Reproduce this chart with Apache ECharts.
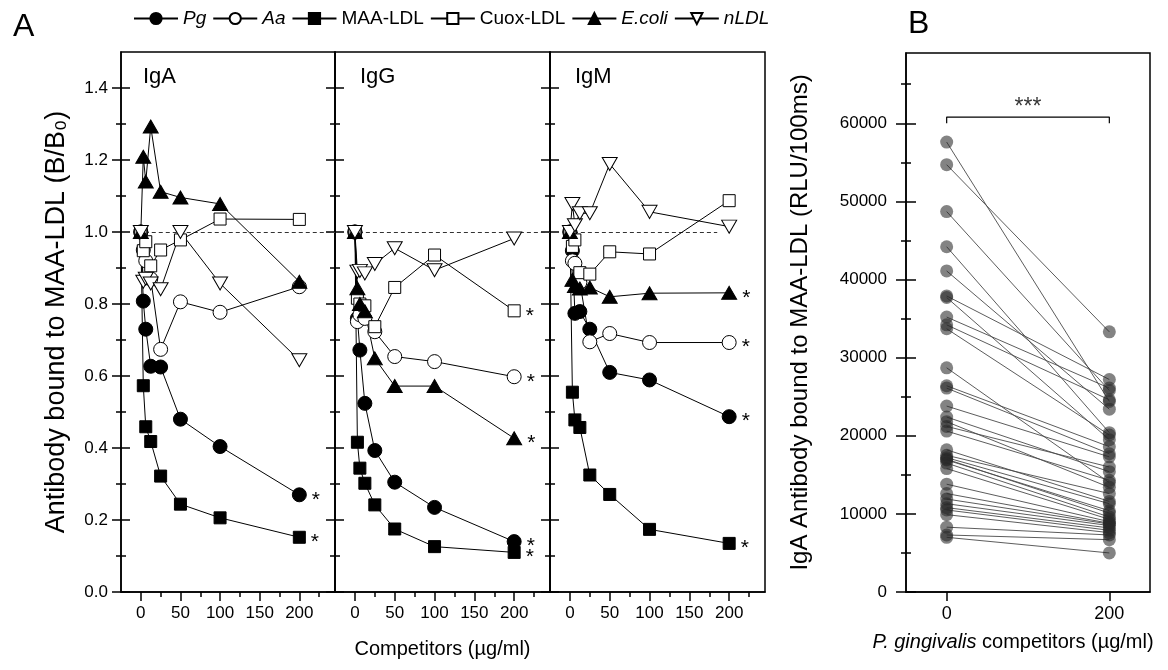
<!DOCTYPE html>
<html>
<head>
<meta charset="utf-8">
<script src="https://cdn.jsdelivr.net/npm/echarts@6/dist/echarts.min.js"></script>
<style>html,body{margin:0;padding:0;background:#fff}#c{width:1168px;height:670px}</style>
</head>
<body>
<div id="c"></div>
<script>
// ---------- DATA ----------
const conc = [0, 3.125, 6.25, 12.5, 25, 50, 100, 200];
const competitorNames = ['Pg', 'Aa', 'MAA-LDL', 'Cuox-LDL', 'E.coli', 'nLDL'];
const italicNames = ['Pg', 'Aa', 'E.coli', 'nLDL'];
const panelLabels = ['IgA', 'IgG', 'IgM'];

const igA_Pg    = [1.0, 0.808, 0.730, 0.627, 0.625, 0.480, 0.404, 0.270];
const igA_Aa    = [1.0, 0.950, 0.920, 0.870, 0.674, 0.806, 0.777, 0.848];
const igA_MAA   = [1.0, 0.573, 0.459, 0.418, 0.322, 0.244, 0.206, 0.152];
const igA_Cuox  = [1.0, 0.948, 0.973, 0.906, 0.950, 0.978, 1.036, 1.035];
const igA_Ecoli = [1.0, 1.209, 1.140, 1.293, 1.112, 1.096, 1.078, 0.862];
const igA_nLDL  = [1.0, 0.862, 0.870, 0.857, 0.841, 1.000, 0.857, 0.644];

const igG_Pg    = [1.0, 0.760, 0.672, 0.524, 0.393, 0.305, 0.235, 0.140];
const igG_Aa    = [1.0, 0.751, 0.770, 0.760, 0.723, 0.654, 0.640, 0.598];
const igG_MAA   = [1.0, 0.416, 0.344, 0.302, 0.242, 0.175, 0.126, 0.110];
const igG_Cuox  = [1.0, 0.816, 0.800, 0.795, 0.737, 0.846, 0.936, 0.781];
const igG_Ecoli = [1.0, 0.844, 0.800, 0.780, 0.649, 0.572, 0.572, 0.427];
const igG_nLDL  = [1.0, 0.890, 0.892, 0.885, 0.911, 0.955, 0.894, 0.982];

const igM_Pg    = [1.0, 0.948, 0.774, 0.779, 0.730, 0.610, 0.589, 0.487];
const igM_Aa    = [1.0, 0.920, 0.913, 0.860, 0.695, 0.718, 0.693, 0.693];
const igM_MAA   = [1.0, 0.555, 0.478, 0.457, 0.325, 0.271, 0.174, 0.135];
const igM_Cuox  = [1.0, 0.960, 0.978, 0.887, 0.883, 0.945, 0.939, 1.087];
const igM_Ecoli = [1.0, 0.867, 0.850, 0.843, 0.846, 0.820, 0.830, 0.831];
const igM_nLDL  = [1.0, 1.078, 1.019, 1.052, 1.052, 1.189, 1.056, 1.015];

const starsIgA = ['Pg', 'MAA-LDL'];
const starsIgG = ['Cuox-LDL', 'Aa', 'E.coli', 'Pg', 'MAA-LDL'];
const starsIgM = ['E.coli', 'Aa', 'Pg', 'MAA-LDL'];

const yTicksA = [0, 0.2, 0.4, 0.6, 0.8, 1.0, 1.2, 1.4];
const yMinorA = [0.1, 0.3, 0.5, 0.7, 0.9, 1.1, 1.3];
const xTicksA = [0, 50, 100, 150, 200];
const xMinorA = [25, 75, 125, 175, 225];
const refLineValue = 1.0;

// Panel B: paired IgA values (RLU/100ms) before (0) and after (200 ug/ml) competition
const pgPre  = [57600, 54700, 48700, 44200, 41100, 37900, 37700, 35200, 34200, 33700,
                28700, 26400, 26100, 23800, 22400, 21800, 21200, 20600, 18200, 17500,
                17200, 17000, 16900, 16500, 15800, 13800, 12600, 11900, 11300, 10800,
                10500, 9900, 8300, 7300, 7000];
const pgPost = [24400, 33300, 25800, 20400, 23400, 27200, 19500, 26100, 24600, 20100,
                14000, 18600, 17700, 17300, 15400, 13400, 16000, 14300, 11600, 12600,
                11300, 10100, 10400, 9600, 9300, 9000, 8800, 8700, 8500, 8200,
                7900, 7600, 7300, 6700, 5000];
const xCatsB = [0, 200];
const yTicksB = [0, 10000, 20000, 30000, 40000, 50000, 60000];
const yMinorB = [5000, 15000, 25000, 35000, 45000, 55000, 65000];
const sigText = '***';
const sigBase = 60000, sigTop = 60800;

// ---------- STYLE ----------
const FONT = "'Liberation Sans', Arial, Helvetica, sans-serif";
const BLACK = '#000';
const styleMap = {
  'Pg':       {symbol: 'circle', size: 14, fill: '#000'},
  'Aa':       {symbol: 'circle', size: 14, fill: '#fff'},
  'MAA-LDL':  {symbol: 'rect', size: 12, fill: '#000'},
  'Cuox-LDL': {symbol: 'rect', size: 12, fill: '#fff'},
  'E.coli':   {symbol: 'triangle', size: [15, 13], fill: '#000'},
  'nLDL':     {symbol: 'path://M0,0L10,0L5,8.66Z', size: [15, 13], fill: '#fff'}
};

const panels = [
  {data: {'Pg': igA_Pg, 'Aa': igA_Aa, 'MAA-LDL': igA_MAA, 'Cuox-LDL': igA_Cuox, 'E.coli': igA_Ecoli, 'nLDL': igA_nLDL}, stars: starsIgA, refEnd: 245},
  {data: {'Pg': igG_Pg, 'Aa': igG_Aa, 'MAA-LDL': igG_MAA, 'Cuox-LDL': igG_Cuox, 'E.coli': igG_Ecoli, 'nLDL': igG_nLDL}, stars: starsIgG, refEnd: 245},
  {data: {'Pg': igM_Pg, 'Aa': igM_Aa, 'MAA-LDL': igM_MAA, 'Cuox-LDL': igM_Cuox, 'E.coli': igM_Ecoli, 'nLDL': igM_nLDL}, stars: starsIgM, refEnd: 185}
];
const gridPos = [{left: 121, width: 214}, {left: 335, width: 215}, {left: 550, width: 215}];
const labelLeft = [138, 355, 570];

const grids = [], xAxes = [], yAxes = [], series = [];
const lineSt = {color: BLACK, width: 1.5};

function helperY(gi, min, max, vals, off, len) {
  return {gridIndex: gi, type: 'value', min, max, position: 'left', offset: off,
    axisLine: {show: false, onZero: false}, axisTick: {show: true, inside: true, length: len, customValues: vals, lineStyle: lineSt},
    axisLabel: {show: false}, splitLine: {show: false}};
}

panels.forEach((p, pi) => {
  grids.push({left: gridPos[pi].left, top: 52, width: gridPos[pi].width, height: 540,
    show: true, borderColor: BLACK, borderWidth: 1.5, backgroundColor: 'transparent'});
  const xi = xAxes.length;
  xAxes.push({gridIndex: pi, type: 'value', min: -25, max: 245, position: 'bottom',
    axisLine: {show: true, onZero: false, lineStyle: lineSt},
    axisTick: {show: true, length: 9, customValues: xTicksA, lineStyle: lineSt},
    axisLabel: {show: true, customValues: xTicksA, margin: 13, fontSize: 17, color: BLACK},
    splitLine: {show: false},
    name: pi === 1 ? 'Competitors (µg/ml)' : '', nameLocation: 'middle', nameGap: 47,
    nameTextStyle: {fontSize: 20, color: BLACK}});
  xAxes.push({gridIndex: pi, type: 'value', min: -25, max: 245, position: 'bottom',
    axisLine: {show: false, onZero: false},
    axisTick: {show: true, length: 5, customValues: xMinorA, lineStyle: lineSt},
    axisLabel: {show: false}, splitLine: {show: false}});
  const yi = yAxes.length;
  yAxes.push({gridIndex: pi, type: 'value', min: 0, max: 1.5, position: 'left',
    axisLine: {show: true, onZero: false, lineStyle: lineSt},
    axisTick: {show: false},
    axisLabel: {show: pi === 0, customValues: yTicksA, formatter: v => v.toFixed(1), margin: 13, fontSize: 17, color: BLACK},
    splitLine: {show: false},
    name: pi === 0 ? 'Antibody bound to MAA-LDL (B/B\u2080)' : '', nameLocation: 'middle', nameGap: 51,
    nameTextStyle: {fontSize: 27, color: BLACK}});
  yAxes.push(helperY(pi, 0, 1.5, yTicksA, 9, 18));
  yAxes.push(helperY(pi, 0, 1.5, yMinorA, 5, 10));

  competitorNames.forEach((name, si) => {
    const st = styleMap[name];
    const vals = p.data[name];
    const data = conc.map((x, i) => {
      const item = {value: [x, vals[i]]};
      if (i === conc.length - 1 && p.stars.includes(name)) {
        item.label = {show: true, formatter: '*', position: 'right', distance: 5, fontSize: 21, color: BLACK, offset: [0, 5]};
      }
      return item;
    });
    const s = {type: 'line', name, xAxisIndex: xi, yAxisIndex: yi, data,
      symbol: st.symbol, symbolSize: st.size, showAllSymbol: true, animation: false,
      lineStyle: {color: BLACK, width: 1},
      itemStyle: {color: st.fill, borderColor: BLACK, borderWidth: 1},
      emphasis: {disabled: true}, z: 3};
    if (si === 0) {
      s.markLine = {silent: true, symbol: 'none', animation: false, label: {show: false},
        lineStyle: {color: '#333', type: [4, 3], width: 1},
        data: [[{coord: [5, refLineValue]}, {coord: [p.refEnd, refLineValue]}]], z: 1};
    }
    series.push(s);
  });
});

// Panel B
const gB = grids.length;
grids.push({left: 906, top: 53, width: 244, height: 539, show: true, borderColor: BLACK, borderWidth: 1.5, backgroundColor: 'transparent'});
const xB = xAxes.length;
xAxes.push({gridIndex: gB, type: 'value', min: -50, max: 250, position: 'bottom',
  axisLine: {show: true, onZero: false, lineStyle: lineSt},
  axisTick: {show: true, length: 9, customValues: xCatsB, lineStyle: lineSt},
  axisLabel: {show: true, customValues: xCatsB, margin: 13, fontSize: 18, color: BLACK},
  splitLine: {show: false},
  name: '{i|P. gingivalis} competitors (µg/ml)', nameLocation: 'middle', nameGap: 40,
  nameTextStyle: {fontSize: 20, color: BLACK, padding: [0, 30, 0, 0],
    rich: {i: {fontStyle: 'italic', fontSize: 20, color: BLACK}}}});
const yB = yAxes.length;
yAxes.push({gridIndex: gB, type: 'value', min: 0, max: 69000, position: 'left',
  axisLine: {show: true, onZero: false, lineStyle: lineSt},
  axisTick: {show: false},
  axisLabel: {show: true, customValues: yTicksB, formatter: v => String(v), margin: 19, fontSize: 17, color: BLACK},
  splitLine: {show: false},
  name: 'IgA Antibody bound to MAA-LDL (RLU/100ms)', nameLocation: 'middle', nameGap: 94,
  nameTextStyle: {fontSize: 24, color: BLACK}});
yAxes.push(helperY(gB, 0, 69000, yTicksB, 10, 20));
yAxes.push(helperY(gB, 0, 69000, yMinorB, 5, 10));

pgPre.forEach((v, i) => {
  series.push({type: 'line', name: 'pair' + i, xAxisIndex: xB, yAxisIndex: yB, animation: false,
    data: [[xCatsB[0], v], [xCatsB[1], pgPost[i]]], symbol: 'none',
    lineStyle: {color: '#4a4a4a', width: 0.9}, emphasis: {disabled: true}, z: 2});
});
series.push({type: 'scatter', name: 'points', xAxisIndex: xB, yAxisIndex: yB, animation: false,
  data: pgPre.map(v => [xCatsB[0], v]).concat(pgPost.map(v => [xCatsB[1], v])),
  symbol: 'circle', symbolSize: 13, itemStyle: {color: 'rgba(40,40,40,0.72)'}, emphasis: {disabled: true}, z: 3});
series.push({type: 'line', name: 'bracket', xAxisIndex: xB, yAxisIndex: yB, animation: false,
  data: [[xCatsB[0], sigBase], [xCatsB[0], sigTop], [xCatsB[1], sigTop], [xCatsB[1], sigBase]],
  symbol: 'none', lineStyle: {color: BLACK, width: 1.2}, emphasis: {disabled: true}, z: 3});
series.push({type: 'scatter', name: 'sig', xAxisIndex: xB, yAxisIndex: yB, animation: false,
  data: [[(xCatsB[0] + xCatsB[1]) / 2, sigTop]], symbolSize: 0,
  label: {show: true, formatter: sigText, position: 'top', distance: 2, fontSize: 23, color: BLACK, offset: [0, 4]}, z: 3});

const titles = [
  {text: 'A', left: 8, top: 6, textStyle: {fontSize: 32, fontWeight: 'normal', color: BLACK, fontFamily: FONT}},
  {text: 'B', left: 903, top: 3, textStyle: {fontSize: 32, fontWeight: 'normal', color: BLACK, fontFamily: FONT}}
].concat(panelLabels.map((t, i) => ({text: t, left: labelLeft[i], top: 61,
  textStyle: {fontSize: 22, fontWeight: 'normal', color: BLACK, fontFamily: FONT}})));

const option = {
  animation: false,
  backgroundColor: '#fff',
  textStyle: {fontFamily: FONT, color: BLACK},
  title: titles,
  legend: {data: competitorNames, left: 128, top: 4, itemWidth: 44, itemHeight: 14, itemGap: 6,
    selectedMode: false,
    formatter: n => italicNames.includes(n) ? '{i|' + n + '}' : n,
    textStyle: {fontSize: 19, color: BLACK, fontFamily: FONT, rich: {i: {fontStyle: 'italic', fontSize: 19, color: BLACK, fontFamily: FONT}}}},
  grid: grids, xAxis: xAxes, yAxis: yAxes, series
};
const chart = echarts.init(document.getElementById('c'));
chart.setOption(option);
</script>
</body>
</html>
